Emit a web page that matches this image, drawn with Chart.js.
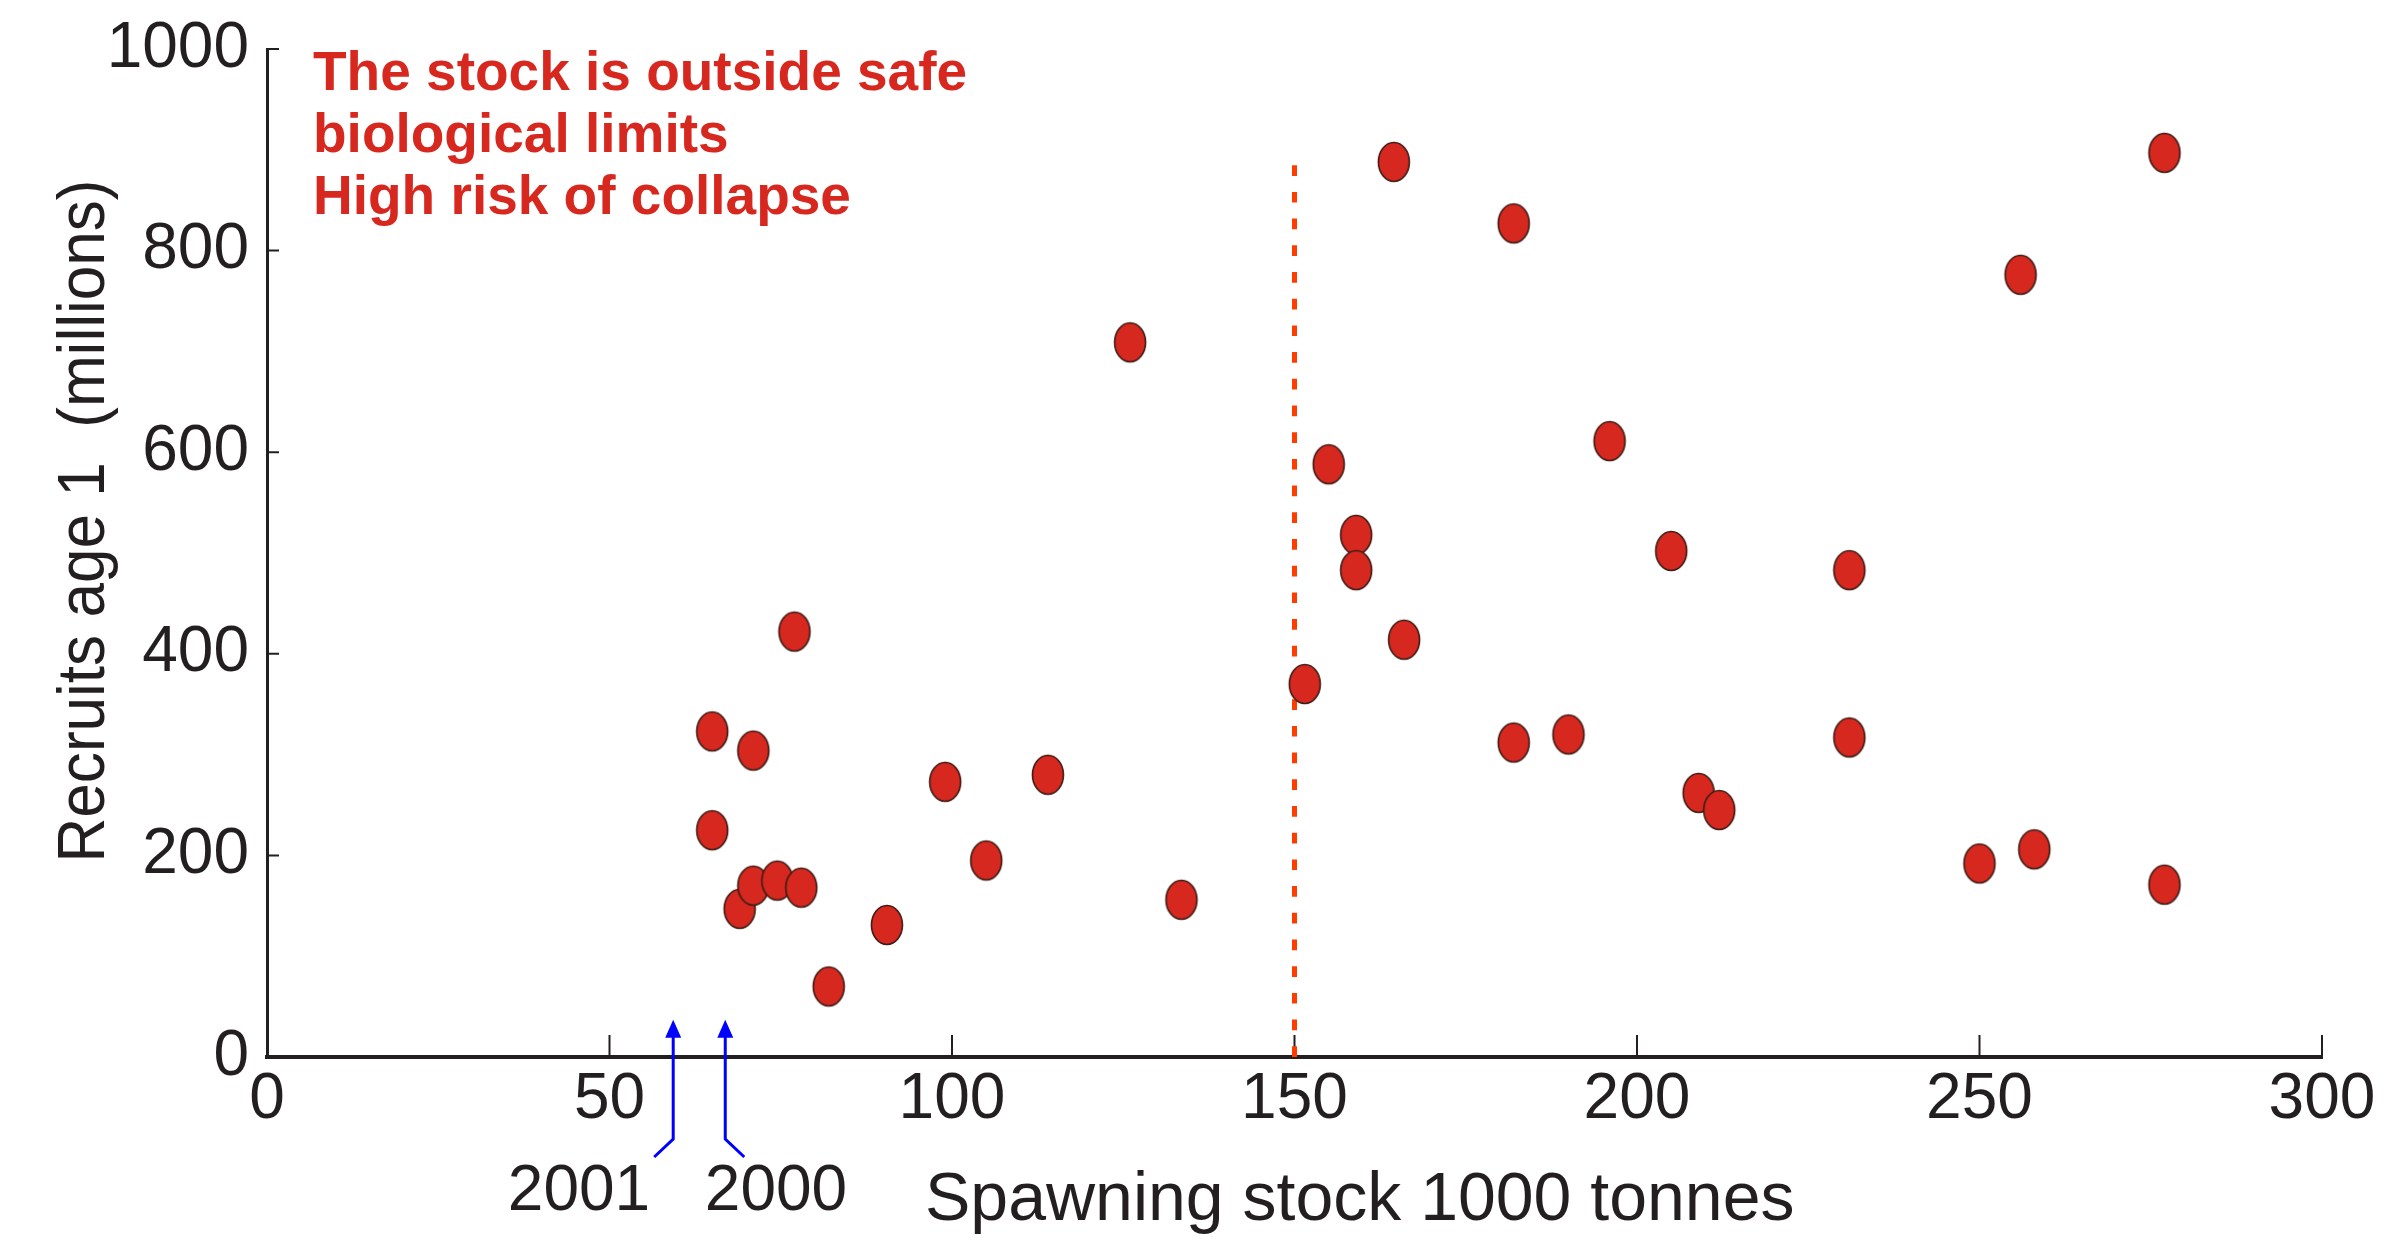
<!DOCTYPE html>
<html>
<head>
<meta charset="utf-8">
<script src="https://cdn.jsdelivr.net/npm/chart.js@4.4.1/dist/chart.umd.min.js"></script>
<style>
  html, body { margin: 0; padding: 0; background: #fff; }
  canvas { display: block; }
</style>
</head>
<body>
<canvas id="stockChart" width="2394" height="1242"></canvas>
<script>
// spawning stock (1000 t) and recruits age 1 (millions)
var stock    = [65, 65, 71, 77, 69, 71, 74.5, 78, 82, 90.5, 99, 105, 114, 126, 133.5,
                151.5, 155, 159, 159, 164.5, 166, 182, 182, 190, 196, 205, 209, 212,
                231, 231, 250, 256, 258, 277, 277];
var recruits = [323, 225, 304, 422, 147, 170, 175, 168, 70, 131, 273, 195, 280, 709, 156,
                370, 588, 518, 483, 888, 414, 827, 312, 320, 611, 502, 262, 245,
                483, 317, 192, 776, 206, 897, 171];

// limit line (Bpa) at 150
var limitX = [150, 150];
var limitY = [0, 886];

// years flagged with arrows
var arrowYears = ['2001', '2000'];
var arrowStock = [59.3, 66.9];
var arrowTip = 37;

var xTicks = [0, 50, 100, 150, 200, 250, 300];
var yTicks = [0, 200, 400, 600, 800, 1000];

var warningLines = ['The stock is outside safe', 'biological limits', 'High risk of collapse'];

var FONT = '"Liberation Sans", Arial, Helvetica, sans-serif';
var INK = '#231f20';

// ellipse marker
var dot = document.createElement('canvas');
dot.width = 36;
dot.height = 44;
(function () {
  var c = dot.getContext('2d');
  c.beginPath();
  c.ellipse(18, 22, 15.5, 19.5, 0, 0, Math.PI * 2);
  c.fillStyle = '#d6281f';
  c.fill();
  c.lineWidth = 1.6;
  c.strokeStyle = '#3b1c16';
  c.stroke();
})();

var points = stock.map(function (s, i) { return { x: s, y: recruits[i] }; });
var limit = limitX.map(function (v, i) { return { x: v, y: limitY[i] }; });

var innerTicks = {
  id: 'innerTicks',
  beforeDatasetsDraw: function (chart) {
    var ctx = chart.ctx, area = chart.chartArea;
    var x = chart.scales.x, y = chart.scales.y;
    ctx.save();
    ctx.strokeStyle = INK;
    ctx.lineWidth = 2;
    ctx.beginPath();
    xTicks.forEach(function (v) {
      if (v === 0) return;
      var px = x.getPixelForValue(v);
      ctx.moveTo(px, area.bottom);
      ctx.lineTo(px, area.bottom - 22);
    });
    yTicks.forEach(function (v) {
      if (v === 0) return;
      var py = y.getPixelForValue(v);
      ctx.moveTo(area.left, py);
      ctx.lineTo(area.left + 12, py);
    });
    ctx.stroke();
    ctx.restore();
  }
};

var annotations = {
  id: 'annotations',
  afterDraw: function (chart) {
    var ctx = chart.ctx, area = chart.chartArea;
    var x = chart.scales.x, y = chart.scales.y;
    ctx.save();

    // warning text
    ctx.fillStyle = '#d7281f';
    ctx.font = 'bold 55px ' + FONT;
    ctx.textAlign = 'left';
    ctx.textBaseline = 'alphabetic';
    warningLines.forEach(function (t, i) {
      ctx.fillText(t, 313, 90 + i * 62);
    });

    // axis titles
    ctx.fillStyle = INK;
    ctx.font = '68px ' + FONT;
    ctx.fillText('Spawning stock 1000 tonnes', 925, 1220);

    ctx.save();
    ctx.translate(104, 521);
    ctx.rotate(-Math.PI / 2);
    ctx.textAlign = 'center';
    ctx.font = '67px ' + FONT;
    var yTitle = 'Recruits age 1  (millions)';
    var squeeze = 683 / ctx.measureText(yTitle).width;
    ctx.scale(Math.min(1, squeeze), 1);
    ctx.fillText(yTitle, 0, 0);
    ctx.restore();

    // year arrows
    ctx.strokeStyle = '#0000ff';
    ctx.fillStyle = '#0000ff';
    ctx.lineWidth = 3;
    arrowYears.forEach(function (yr, i) {
      var px = x.getPixelForValue(arrowStock[i]);
      var tip = y.getPixelForValue(arrowTip);
      var bend = area.bottom + 82;
      var dir = i === 0 ? -1 : 1;
      ctx.beginPath();
      ctx.moveTo(px + dir * 19, bend + 18);
      ctx.lineTo(px, bend);
      ctx.lineTo(px, tip + 12);
      ctx.stroke();
      ctx.beginPath();
      ctx.moveTo(px, tip);
      ctx.lineTo(px - 8, tip + 18);
      ctx.lineTo(px + 8, tip + 18);
      ctx.closePath();
      ctx.fill();

      ctx.fillStyle = INK;
      ctx.font = '64px ' + FONT;
      ctx.textAlign = 'center';
      ctx.fillText(yr, i === 0 ? 579 : 776, 1210);
      ctx.fillStyle = '#0000ff';
    });

    ctx.restore();
  }
};

function plainLabel(v) { return String(v); }

new Chart(document.getElementById('stockChart'), {
  type: 'scatter',
  data: {
    datasets: [
      {
        label: 'Recruits',
        data: points,
        pointStyle: dot,
        pointRadius: 20,
        order: 0
      },
      {
        type: 'line',
        label: 'Limit',
        data: limit,
        borderColor: '#ff3c00',
        borderWidth: 5,
        borderDash: [10.7, 16],
        borderCapStyle: 'butt',
        pointRadius: 0,
        fill: false,
        order: 1
      }
    ]
  },
  options: {
    responsive: false,
    devicePixelRatio: 1,
    animation: false,
    events: [],
    layout: { padding: { top: 49, right: 72, left: 0, bottom: 0 } },
    plugins: {
      legend: { display: false },
      tooltip: { enabled: false }
    },
    scales: {
      x: {
        type: 'linear',
        min: 0,
        max: 300,
        afterFit: function (s) { s.height = 185; },
        afterBuildTicks: function (s) { s.ticks = xTicks.map(function (v) { return { value: v }; }); },
        ticks: { color: INK, font: { family: FONT, size: 64 }, padding: 5, maxRotation: 0, callback: plainLabel },
        grid: { drawOnChartArea: false, drawTicks: false },
        border: { color: INK, width: 4 }
      },
      y: {
        type: 'linear',
        min: 0,
        max: 1000,
        afterFit: function (s) { s.width = 267; s.paddingTop = 0; s.paddingBottom = 0; },
        afterBuildTicks: function (s) { s.ticks = yTicks.map(function (v) { return { value: v }; }); },
        ticks: { color: INK, font: { family: FONT, size: 64 }, padding: 18, callback: plainLabel },
        grid: { drawOnChartArea: false, drawTicks: false },
        border: { color: INK, width: 3 }
      }
    }
  },
  plugins: [innerTicks, annotations]
});
</script>
</body>
</html>
